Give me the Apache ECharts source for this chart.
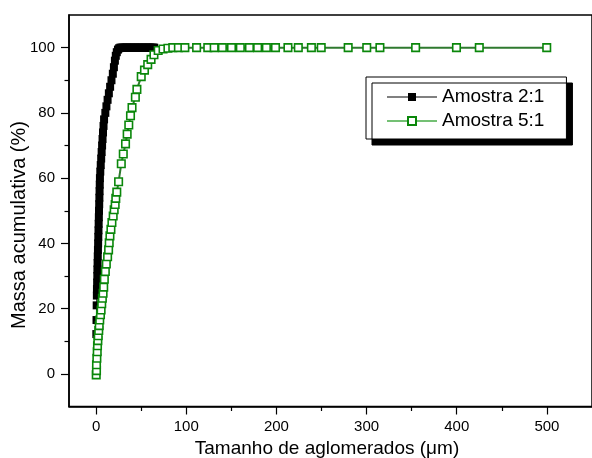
<!DOCTYPE html>
<html>
<head>
<meta charset="utf-8">
<script src="https://cdn.jsdelivr.net/npm/echarts@6/dist/echarts.min.js"></script>
<style>
  html, body { margin: 0; padding: 0; background: #fff; }
  #chart { width: 592px; height: 458px; }
</style>
</head>
<body>
<div id="chart"></div>
<script>
// Cumulative mass vs agglomerate size for two samples
const seriesNames = ['Amostra 2:1', 'Amostra 5:1'];

// Amostra 2:1 (filled black squares)
const size21 = [0.3, 0.5, 0.7, 0.9, 1.0, 1.2, 1.4, 1.5, 1.7, 1.9, 2.1, 2.3, 2.5, 2.7, 2.9, 3.1, 3.3, 3.5, 3.7, 3.9,
  4.1, 4.3, 4.7, 5.2, 5.7, 6.2, 6.7, 7.2, 7.7, 8.3, 8.9, 10.3, 11.5, 12.8, 14.2, 15.6, 17.1, 18.6, 19.8, 20.9,
  21.9, 23.0, 24.3, 25.6, 27.0, 28.5, 30.0, 31.5, 33.0, 34.5, 36.0, 37.5, 39.0, 40.5, 42.0, 43.5, 45.0, 46.5,
  48.0, 49.5, 51.0, 52.5, 54.0, 55.5, 57.0, 58.5, 60.0, 61.5, 63.0, 64.5];
const mass21 = [12.2, 16.5, 21.0, 24.0, 26.0, 28.0, 30.0, 32.0, 34.0, 36.0, 38.0, 40.0, 42.0, 44.0, 46.0, 48.0, 50.0, 52.0, 54.0, 56.0,
  58.0, 60.0, 62.0, 64.0, 66.0, 68.0, 70.0, 72.0, 74.0, 76.0, 78.0, 80.0, 82.0, 84.0, 86.0, 88.0, 90.0, 92.0, 94.0, 96.0,
  97.5, 98.6, 99.4, 99.8, 100, 100, 100, 100, 100, 100, 100, 100, 100, 100, 100, 100, 100, 100,
  100, 100, 100, 100, 100, 100, 100, 100, 100, 100, 100, 100];

// Amostra 5:1 (open green squares)
const size51 = [0.2, 0.5, 0.5, 0.9, 1.3, 1.6, 2.0, 2.4, 3.0, 3.5, 4.1, 4.9, 5.6, 6.3, 7.0, 7.8, 8.5, 9.2, 10.3, 11.4,
  12.8, 13.9, 14.6, 15.4, 16.5, 17.6, 19.0, 20.1, 21.2, 21.9, 23.0, 25.0, 28.0, 30.2, 32.7, 34.5, 36.3, 38.2, 39.9, 43.6,
  45.3, 50.1, 53.7, 57.3, 61.0, 64.2, 68.9, 74.3, 79.7, 85.1, 91.3, 98.5, 111.5, 123.9, 131.0, 140.1, 150.2, 160.0,
  170.1, 179.2, 188.9, 199.0, 212.8, 224.3, 238.8, 249.7, 279.6, 300.2, 314.8, 354.4, 399.7, 425.0, 499.8];
const mass51 = [-0.3, 1.0, 2.8, 4.8, 6.8, 8.6, 10.2, 11.7, 13.3, 14.8, 16.5, 18.1, 19.6, 21.5, 23.2, 24.7, 26.6, 29.0, 31.4, 33.7,
  35.9, 38.0, 40.2, 42.3, 44.3, 46.4, 48.4, 50.3, 51.9, 53.8, 55.7, 58.9, 64.4, 67.4, 70.5, 73.5, 76.3, 79.1, 81.6, 84.8,
  87.2, 91.1, 93.1, 94.8, 96.4, 97.8, 99.1, 99.6, 99.8, 100, 100, 100, 100, 100, 100, 100, 100, 100,
  100, 100, 100, 100, 100, 100, 100, 100, 100, 100, 100, 100, 100, 100, 100];

// Axis ticks
const xMajorTicks = [0, 100, 200, 300, 400, 500];
const xMinorTicks = [50, 150, 250, 350, 450];
const yMajorTicks = [0, 20, 40, 60, 80, 100];
const yMinorTicks = [10, 30, 50, 70, 90];

const xTitle = 'Tamanho de aglomerados (\u03bcm)';
const yTitle = 'Massa acumulativa (%)';

const FONT = '"Liberation Sans", Arial, Helvetica, sans-serif';

function zip(xs, ys) { return xs.map((x, i) => [x, ys[i]]); }

const chart = echarts.init(document.getElementById('chart'), null, { renderer: 'canvas' });

const X_MIN = -30, X_MAX = 550, Y_MIN = -10, Y_MAX = 110;

function baseX(extra) {
  return Object.assign({
    type: 'value', gridIndex: 0, min: X_MIN, max: X_MAX, position: 'bottom',
    splitLine: { show: false }
  }, extra);
}
function baseY(extra) {
  return Object.assign({
    type: 'value', gridIndex: 0, min: Y_MIN, max: Y_MAX, position: 'left',
    splitLine: { show: false }
  }, extra);
}

chart.setOption({
  animation: false,
  backgroundColor: '#fff',
  // the plot frame runs past the right edge of the canvas
  grid: {
    left: 69, width: 535, top: 15, height: 391.5,
    show: true, borderColor: '#000', borderWidth: 1.5, backgroundColor: 'transparent'
  },
  xAxis: [
    baseX({
      axisLine: { show: true, onZero: false, lineStyle: { color: '#000', width: 1.5 } },
      axisTick: { show: true, length: 8, lineStyle: { color: '#000', width: 1.2 }, customValues: xMajorTicks },
      axisLabel: { show: true, margin: 13, color: '#000', fontSize: 15, fontFamily: FONT, customValues: xMajorTicks }
    }),
    baseX({
      axisLine: { show: false, onZero: false },
      axisTick: { show: true, length: 4.5, lineStyle: { color: '#000', width: 1.2 }, customValues: xMinorTicks },
      axisLabel: { show: false }
    })
  ],
  yAxis: [
    baseY({
      axisLine: { show: true, onZero: false, lineStyle: { color: '#000', width: 1.5 } },
      axisTick: { show: true, length: 8, lineStyle: { color: '#000', width: 1.2 }, customValues: yMajorTicks },
      axisLabel: { show: true, margin: 14, color: '#000', fontSize: 15, fontFamily: FONT, customValues: yMajorTicks }
    }),
    baseY({
      axisLine: { show: false, onZero: false },
      axisTick: { show: true, length: 4.5, lineStyle: { color: '#000', width: 1.2 }, customValues: yMinorTicks },
      axisLabel: { show: false }
    })
  ],
  legend: {
    orient: 'vertical',
    left: 366, top: 77,
    padding: [10, 22, 8, 20],
    itemWidth: 50, itemHeight: 10, itemGap: 4,
    backgroundColor: '#fff',
    borderColor: '#000', borderWidth: 1,
    shadowColor: '#000', shadowBlur: 0, shadowOffsetX: 6, shadowOffsetY: 6,
    textStyle: { color: '#000', fontSize: 19, fontFamily: FONT, lineHeight: 20 },
    data: [
      { name: seriesNames[0], lineStyle: { color: '#808080', width: 2 } },
      { name: seriesNames[1], lineStyle: { color: '#74c074', width: 2 } }
    ]
  },
  graphic: [
    {
      type: 'text', x: 327, y: 449,
      style: { text: xTitle, font: '19px ' + FONT, fill: '#000', textAlign: 'center', textVerticalAlign: 'middle' }
    },
    {
      type: 'text', x: 19, y: 225, rotation: Math.PI / 2,
      style: { text: yTitle, font: '20px ' + FONT, fill: '#000', textAlign: 'center', textVerticalAlign: 'middle' }
    }
  ],
  series: [
    {
      name: seriesNames[0], type: 'line',
      xAxisIndex: 0, yAxisIndex: 0,
      data: zip(size21, mass21),
      symbol: 'rect', symbolSize: 8, showSymbol: true,
      itemStyle: { color: '#000' },
      lineStyle: { color: '#000', width: 1 },
      z: 2
    },
    {
      name: seriesNames[1], type: 'line',
      xAxisIndex: 0, yAxisIndex: 0,
      data: zip(size51, mass51),
      symbol: 'rect', symbolSize: 7.5, showSymbol: true,
      itemStyle: { color: '#fff', borderColor: '#0a870a', borderWidth: 1.6 },
      lineStyle: { color: '#2f7a2f', width: 2 },
      z: 3
    }
  ]
});
</script>
</body>
</html>
